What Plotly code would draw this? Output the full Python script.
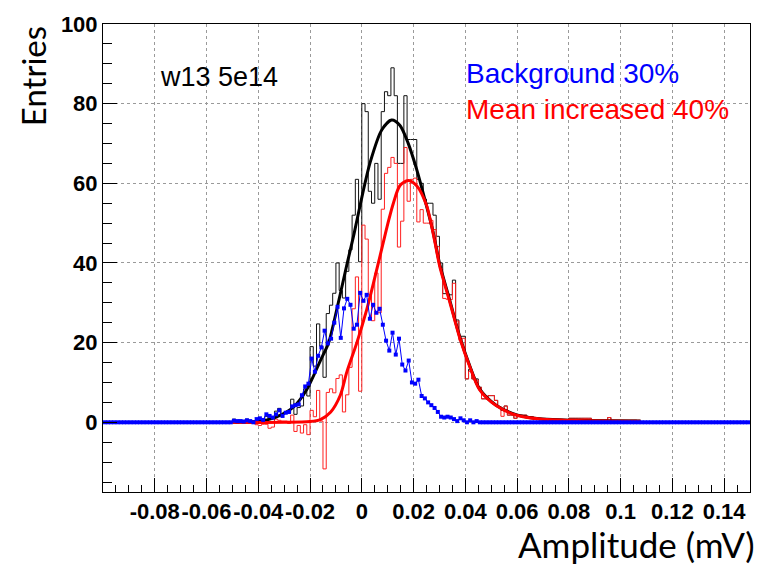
import numpy as np
import plotly.graph_objects as go

# ---------------- data ----------------
BIN_WIDTH = 0.00125
X_MIN, X_MAX = -0.1, 0.15
Y_MIN, Y_MAX = -17.5, 100
FIRST_EDGE = -0.0525          # left edge of first listed bin

# total entries (black histogram), bins from -0.0525 upward
total_counts = [
    0, 0, 0.8, 0, 0.5, 0, 0.8, 0, 0.4, 0.2,
    0.2, 0.1, 1.5, 0.1, 0, 2.8, 3.5, 1.9, 2.7, 2.3,
    5.8, 2.0, 3.7, 4.1, 8.4, 6.6, 19.0, 14.1, 24.7, 19.1,
    11.3, 27.3, 29.4, 32.4, 40.0, 33.1, 31.2, 37.9, 43.3, 52.0,
    61.0, 40.3, 80.0, 78.0, 58.0, 55.0, 65.0, 56.0, 78.0, 83.0,
    82.0, 89.0, 82.0, 65.0, 65.0, 82.0, 71.0, 71.0, 71.0, 61.0,
    60.0, 56.0, 55.0, 55.0, 52.0, 46.7, 40.0, 32.3, 32.3, 32.0,
    35.7, 25.7, 21.6, 21.6, 10.9, 13.3, 10.9, 10.9, 8.8, 5.9,
    5.9, 6.7, 6.7, 5.5, 3.9, 3.0, 4.1, 1.8, 1.8, 1.0,
    1.8, 1.8, 1.8, 1.4, 1.4, 0.8, 0.8, 0.8, 0.6, 0.6,
    0.6, 0.6, 0.6, 0.6, 0.6, 0.6, 1.0, 1.0, 1.0, 1.0,
    1.0, 1.0, 1.0, 0.5, 0.5, 0.5, 0.5, 0.5, 1.2, 0.5,
    0.5, 0.5, 0.5, 0.5, 0.5, 0.5, 0.5, 0.3, 0, 0, 0,
]

# "Mean increased 40%" (red histogram)
signal_counts = [
    0, 0, 0.4, -0.3, 0.2, -0.2, 0.3, -0.3, 0.4, -0.6,
    -0.8, -0.5, -0.5, -1.5, -1.2, 0.8, 0.5, 0.3, 0.3, -0.3,
    1.8, -2.3, -0.8, -2.7, -0.6, -3.1, 3.0, 1.4, 8.0, 0.3,
    -11.7, 7.5, 8.4, 7.4, 11.0, 11.9, 2.6, 6.9, 13.8, 28.5,
    36.5, 7.8, 49.5, 46.0, 32.0, 25.5, 37.5, 27.5, 53.5, 62.5,
    64.0, 66.5, 65.0, 44.0, 50.5, 69.0, 55.5, 61.0, 61.3, 50.3,
    53.4, 50.0, 50.0, 50.7, 48.4, 44.1, 38.6, 31.1, 30.9, 30.8,
    34.9, 25.4, 20.6, 21.1, 10.9, 12.8, 10.9, 10.6, 8.8, 5.9,
    5.9, 6.7, 6.7, 5.5, 3.9, 1.5, 4.1, 1.8, 1.8, 1.0,
    1.8, 1.8, 1.8, 1.4, 1.4, 0.8, 0.8, 0.8, 0.6, 0.6,
    0.6, 0.6, 0.6, 0.6, 0.6, 0.6, 1.0, 1.0, 1.0, 1.0,
    1.0, 1.0, 1.0, 0.5, 0.5, 0.5, 0.5, 0.5, 1.2, 0.5,
    0.5, 0.5, 0.5, 0.5, 0.5, 0.5, 0.5, 0.3, 0, 0, 0,
]

# "Background 30%" (blue points)
background_counts = [
    0, 0, 0.4, 0.3, 0.3, 0.2, 0.5, 0.3, 0, 0.8,
    1.0, 0.6, 2.0, 1.6, 1.2, 2.0, 3.0, 1.6, 2.4, 2.6,
    4.0, 4.3, 4.5, 6.8, 9.0, 9.7, 16.0, 12.7, 16.7, 18.8,
    23.0, 19.8, 21.0, 25.0, 29.0, 21.2, 28.6, 31.0, 29.5, 23.5,
    24.5, 32.5, 30.5, 32.0, 26.0, 29.5, 27.5, 28.5, 24.5, 20.5,
    18.0, 22.5, 17.0, 21.0, 14.5, 13.0, 15.5, 10.0, 9.7, 10.7,
    6.6, 6.0, 5.0, 4.3, 3.6, 2.6, 1.4, 1.2, 1.4, 1.2,
    0.8, 0.3, 1.0, 0.5, 0, 0.5, 0, 0.3, 0, 0,
    0, 0, 0, 0, 0, 0, 0, 0, 0, 0,
    0, 0, 0, 0, 0, 0, 0, 0, 0, 0,
    0, 0, 0, 0, 0, 0, 0, 0, 0, 0,
    0, 0, 0, 0, 0, 0, 0, 0, 0, 0,
    0, 0, 0, 0, 0, 0, 0, 0, 0, 0, 0,
]

# fitted curves
total_fit_x = [-0.05, -0.042, -0.0365, -0.0314, -0.0263, -0.0212, -0.016, -0.0128,
               -0.0109, -0.0058, -0.003, -0.00065, 0.0032, 0.0077, 0.0115, 0.0147,
               0.0179, 0.0212, 0.0243, 0.0275, 0.0301, 0.034, 0.0378, 0.0417,
               0.0455, 0.0519, 0.0602, 0.0698, 0.0827, 0.1077]
total_fit_y = [0.0, 0.1, 0.6, 1.8, 3.9, 8.3, 15.5, 20.0,
               24.8, 39.5, 47.3, 54.5, 65.2, 73.4, 75.9, 74.6,
               70.1, 63.5, 56.1, 47.9, 39.7, 30.6, 21.6, 14.2,
               8.4, 4.3, 1.8, 0.8, 0.5, 0.3]

signal_fit_x = [-0.05, -0.03, -0.02, -0.016, -0.012, -0.0083, -0.0058, -0.0019,
                0.0019, 0.0049, 0.0081, 0.0105, 0.0122, 0.0147, 0.0179, 0.0212,
                0.025, 0.0282, 0.0301, 0.034, 0.0378, 0.0417, 0.0455, 0.0519,
                0.0602, 0.0698, 0.0827, 0.1077]
signal_fit_y = [0.0, 0.0, 0.2, 0.7, 2.6, 6.8, 12.6, 20.0,
                28.3, 36.0, 44.6, 51.0, 55.0, 59.4, 60.7, 59.4,
                54.5, 45.4, 39.2, 30.2, 21.3, 14.0, 8.2, 4.2,
                1.7, 0.75, 0.45, 0.25]

x_tick_vals = [-0.08, -0.06, -0.04, -0.02, 0, 0.02, 0.04, 0.06, 0.08, 0.1, 0.12, 0.14]
x_tick_text = ["-0.08", "-0.06", "-0.04", "-0.02", "0", "0.02", "0.04", "0.06",
               "0.08", "0.1", "0.12", "0.14"]
y_tick_vals = [0, 20, 40, 60, 80, 100]
y_tick_text = ["0", "20", "40", "60", "80", "100"]
X_MINOR_STEP = 0.005
Y_MINOR_STEP = 5

# ---------------- build full-range histograms ----------------
n_bins = int(round((X_MAX - X_MIN) / BIN_WIDTH))
pad_left = int(round((FIRST_EDGE - X_MIN) / BIN_WIDTH))
pad_right = n_bins - pad_left - len(total_counts)


def full(vals):
    return [0.0] * pad_left + list(vals) + [0.0] * pad_right


edges = X_MIN + BIN_WIDTH * np.arange(n_bins + 1)
centers = 0.5 * (edges[:-1] + edges[1:])


def step_xy(vals):
    v = full(vals)
    return list(edges), v + [v[-1]]


fig = go.Figure()

hx, hy = step_xy(total_counts)
fig.add_trace(go.Scatter(x=hx, y=hy, mode="lines", line=dict(color="#111111", width=1, shape="hv"),
                         showlegend=False, hoverinfo="skip"))
sx, sy = step_xy(signal_counts)
fig.add_trace(go.Scatter(x=sx, y=sy, mode="lines", line=dict(color="#ff2020", width=1, shape="hv"),
                         showlegend=False, hoverinfo="skip"))
fig.add_trace(go.Scatter(x=total_fit_x, y=total_fit_y, mode="lines",
                         line=dict(color="black", width=3, shape="spline", smoothing=0.8),
                         showlegend=False))
fig.add_trace(go.Scatter(x=signal_fit_x, y=signal_fit_y, mode="lines",
                         line=dict(color="#ff0000", width=3, shape="spline", smoothing=0.8),
                         showlegend=False))
fig.add_trace(go.Scatter(x=list(centers), y=full(background_counts), mode="lines+markers",
                         line=dict(color="#0000ff", width=1),
                         marker=dict(symbol="square", size=4, color="#0000ff"),
                         showlegend=False))

# ---------------- layout ----------------
W, H = 763, 564
L, R, T, B = 103, 12, 16, 72
pw, ph = W - L - R, H - T - B


def px(xp):
    return (xp - L) / pw


def py(yp):
    return (H - B - yp) / ph


x_minor = [round(v, 4) for v in np.arange(X_MIN, X_MAX + 1e-9, X_MINOR_STEP)]
y_minor = list(np.arange(-15, Y_MAX + 1e-9, Y_MINOR_STEP))

tick_font = dict(family="Liberation Sans, Arial, Helvetica", size=22, color="black", weight="bold")
grid = dict(showgrid=True, gridcolor="#9a9a9a", griddash="dot", gridwidth=1)

fig.update_layout(
    width=W, height=H,
    margin=dict(l=L, r=R, t=T, b=B, pad=0),
    paper_bgcolor="white", plot_bgcolor="white",
    xaxis=dict(range=[X_MIN, X_MAX], tickmode="array", tickvals=x_tick_vals, ticktext=x_tick_text,
               tickangle=0,
               ticks="inside", ticklen=14, tickcolor="black", tickwidth=1,
               minor=dict(tickmode="array", tickvals=x_minor, ticks="inside", ticklen=7,
                          tickcolor="black", tickwidth=1, showgrid=False),
               showline=True, linecolor="black", linewidth=1, mirror=True,
               zeroline=False, tickfont=tick_font, **grid),
    yaxis=dict(range=[Y_MIN, Y_MAX], tickmode="array", tickvals=y_tick_vals, ticktext=y_tick_text,
               ticks="inside", ticklen=14, tickcolor="black", tickwidth=1,
               minor=dict(tickmode="array", tickvals=y_minor, ticks="inside", ticklen=9,
                          tickcolor="black", tickwidth=1, showgrid=False),
               showline=True, linecolor="black", linewidth=1, mirror=True,
               zeroline=False, tickfont=tick_font, **grid),
)

txt_font = "Liberation Sans, Arial, Helvetica"
title_font = "Lato, Open Sans, sans-serif"
annotations = [
    dict(text="w13 5e14", x=px(158), y=py(70), xanchor="left", yanchor="middle",
         font=dict(family=txt_font, size=27, color="black")),
    dict(text="Background 30%", x=px(465), y=py(66), xanchor="left", yanchor="middle",
         font=dict(family=txt_font, size=28, color="#0000ff")),
    dict(text="Mean increased 40%", x=px(465), y=py(103), xanchor="left", yanchor="middle",
         font=dict(family=txt_font, size=28, color="#ff0000")),
    dict(text="Amplitude (mV)", x=px(758), y=py(545), xanchor="right", yanchor="middle",
         font=dict(family=title_font, size=35, color="black")),
    dict(text="Entries", x=px(33), y=py(69), xanchor="center", yanchor="middle",
         textangle=-90, font=dict(family=title_font, size=33, color="black")),
]
for a in annotations:
    a.update(xref="paper", yref="paper", showarrow=False)
fig.update_layout(annotations=annotations)

fig.write_html("out.html")
